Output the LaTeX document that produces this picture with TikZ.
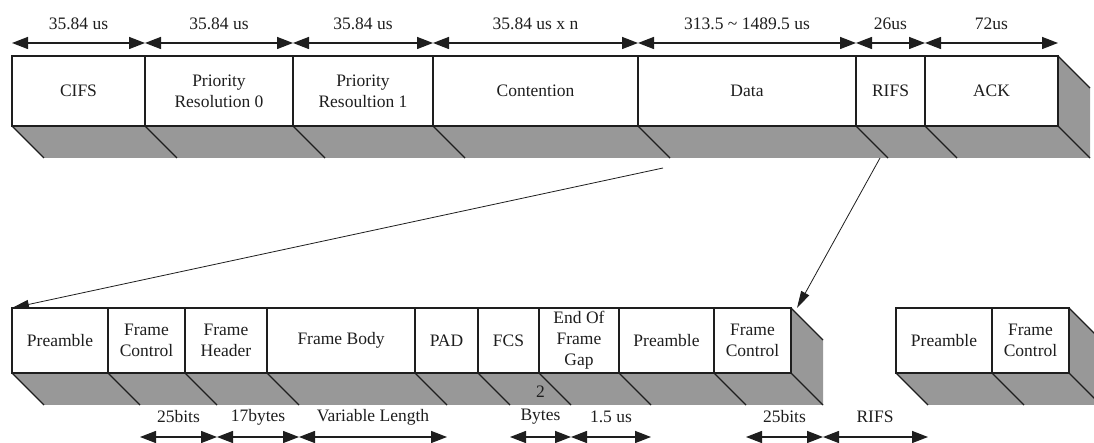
\documentclass[tikz,border=0pt]{standalone}
\usepackage{fontspec}
\setmainfont{Liberation Serif}
\usetikzlibrary{arrows.meta,backgrounds}
\definecolor{shadegray}{RGB}{152,152,152}
\definecolor{inkc}{RGB}{30,30,30}
\tikzset{
  cellbox/.style={draw=inkc, line width=1.3bp, fill=white, inner sep=0pt, outer sep=0pt,
    align=center, anchor=north west, text=inkc, font=\fontsize{17.5bp}{21bp}\selectfont},
  topcell/.style={cellbox, minimum height=70bp},
  botcell/.style={cellbox, minimum height=65bp},
  shadowfill/.style={fill=shadegray},
  edgeline/.style={draw=inkc, line width=1.3bp},
  dimarrow/.style={draw=inkc, line width=1.4bp, {Triangle[length=16bp,width=12bp]}-{Triangle[length=16bp,width=12bp]}},
  dimlabel/.style={text=inkc, inner sep=0pt, align=center, font=\fontsize{17.5bp}{23bp}\selectfont},
  linkarrow/.style={draw=inkc, line width=0.8bp, -{Triangle[length=17bp,width=9bp]}}
}
\begin{document}
\begin{tikzpicture}[x=1bp,y=-1bp]
\clip (0,0) rectangle (1094,443);
% top row
\node[topcell, minimum width=133bp] (cifs) at (12,56) {CIFS};
\node[topcell, minimum width=148bp] (pr0) at (145,56) {Priority\\Resolution 0};
\node[topcell, minimum width=140bp] (pr1) at (293,56) {Priority\\Resoultion 1};
\node[topcell, minimum width=205bp] (cont) at (433,56) {Contention};
\node[topcell, minimum width=218bp] (data) at (638,56) {Data};
\node[topcell, minimum width=69bp] (rifs) at (856,56) {RIFS};
\node[topcell, minimum width=133bp] (ack) at (925,56) {ACK};
% bottom row
\node[botcell, minimum width=96bp] (pre1) at (12,308) {Preamble};
\node[botcell, minimum width=77bp] (fc1) at (108,308) {Frame\\Control};
\node[botcell, minimum width=82bp] (fh) at (185,308) {Frame\\Header};
\node[botcell, minimum width=148bp] (fb) at (267,308) {Frame Body};
\node[botcell, minimum width=63bp] (pad) at (415,308) {PAD};
\node[botcell, minimum width=61bp] (fcs) at (478,308) {FCS};
\node[botcell, minimum width=80bp] (eofg) at (539,308) {End Of\\Frame\\Gap};
\node[botcell, minimum width=95bp] (pre2) at (619,308) {Preamble};
\node[botcell, minimum width=77bp] (fc2) at (714,308) {Frame\\Control};
\node[botcell, minimum width=96bp] (pre3) at (896,308) {Preamble};
\node[botcell, minimum width=77bp] (fc3) at (992,308) {Frame\\Control};
% shadows
\begin{scope}[on background layer]
\fill[white] (0,0) rectangle (1094,443);
\foreach \n in {cifs,pr0,pr1,cont,data,rifs,ack,pre1,fc1,fh,fb,pad,fcs,eofg,pre2,fc2,pre3,fc3}{
  \fill[shadowfill] (\n.south west) -- (\n.south east) -- ([shift={(32,32)}]\n.south east) -- ([shift={(32,32)}]\n.south west) -- cycle;
  \draw[edgeline] (\n.south west) -- ([shift={(32,32)}]\n.south west);
}
\foreach \n in {ack,fc2,fc3}{
  \fill[shadowfill] (\n.north east) -- ([shift={(32,32)}]\n.north east) -- ([shift={(32,32)}]\n.south east) -- (\n.south east) -- cycle;
  \draw[edgeline] (\n.north east) -- ([shift={(32,32)}]\n.north east);
  \draw[edgeline] (\n.south east) -- ([shift={(32,32)}]\n.south east);
}
\end{scope}
% top dimensions
\foreach \n/\t in {cifs/35.84 us, pr0/35.84 us, pr1/35.84 us, cont/35.84 us x n, data/313.5 \textasciitilde{} 1489.5 us, rifs/26us, ack/72us}{
  \draw[dimarrow] ([shift={(0,-13)}]\n.north west) -- ([shift={(0,-13)}]\n.north east);
  \node[dimlabel] (lab-\n) at ([shift={(0,-32)}]\n.north) {\t};
}
% bottom dimensions
\foreach \n/\t in {fc1/25bits, fh/17bytes, fb/Variable Length, eofg/1.5 us, fc2/25bits}{
  \draw[dimarrow] ([shift={(32,64)}]\n.south west) -- ([shift={(32,64)}]\n.south east);
  \node[dimlabel] (lab-\n) at ([shift={(32,44)}]\n.south) {\t};
}
\draw[dimarrow] ([shift={(32,64)}]fcs.south west) -- ([shift={(32,64)}]fcs.south east);
\node[dimlabel] (lab-fcs) at ([shift={(32,32.5)}]fcs.south) {2\\Bytes};
\draw[dimarrow] ([shift={(32,64)}]fc2.south east) -- ([shift={(32,64)}]pre3.south west);
\node[dimlabel] (lab-rifs2) at ([shift={(-21,44)}]pre3.south west) {RIFS};
% links
\coordinate (src1) at (663,168);
\coordinate (src2) at (880,158);
\coordinate (dst2) at (797,308);
\draw[linkarrow] (src1) -- (pre1.north west);
\draw[linkarrow] (src2) -- (dst2);
\end{tikzpicture}
\end{document}
